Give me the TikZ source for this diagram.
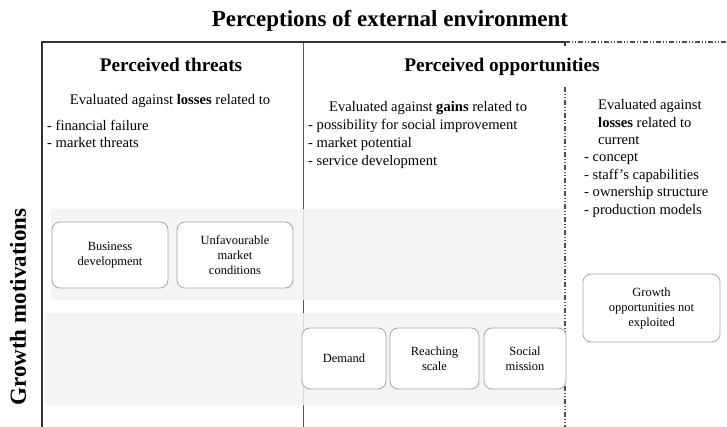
\documentclass[tikz,border=0pt]{standalone}
\usepackage{fontspec}
\setmainfont{Liberation Serif}
\usepackage{tikz}

\tikzset{
	frame/.style={line width=1.3pt, draw=black!80},
	divider/.style={line width=0.9pt, draw=black!65},
	dashdot/.style={line width=1.1pt, draw=black!70, dash pattern=on 5pt off 2pt on 1pt off 2pt on 1pt off 2pt},
	band/.style={fill=black!5, fill opacity=0.85},
	motive/.style={draw=black!35, line width=0.8pt, rounded corners=8pt, fill=white, align=center, font=\fontsize{12.5}{15}\selectfont, inner sep=2pt},
	heading/.style={font=\fontsize{19.3}{23}\selectfont\bfseries, anchor=base, inner sep=0pt},
	body/.style={font=\fontsize{14.6}{17}\selectfont, anchor=base west, inner sep=0pt},
}

\begin{document}
\begin{tikzpicture}[x=1pt, y=-1pt]
	\useasboundingbox (0,0) rectangle (727,427);
	
	\coordinate (tl) at (42,42);
	\coordinate (bl) at (42,427);
	\coordinate (tm) at (303,42);
	\coordinate (bm) at (303,427);
	\coordinate (tr) at (565,42);
	\coordinate (te) at (727,42);
	\coordinate (dr) at (565,87);
	\coordinate (br) at (565,427);
	
	\draw[divider] (tm) -- (bm);
	\fill[band] (51,209) rectangle (563,300);
	\fill[band] (45,313) rectangle (565,405);
	\draw[frame] (bl) -- (tl) -- (tr) -- ++(0,4);
	\draw[dashdot] (tr) -- (te);
	\draw[dashdot] (dr) -- (br);
	
	\node[font=\fontsize{23}{27}\selectfont\bfseries, anchor=base, inner sep=0pt] (title) at (390,27) {Perceptions of external environment};
	\node[rotate=90, font=\fontsize{23}{27}\selectfont\bfseries] (growth) at (18,307) {Growth motivations};
	
	\node[heading] (threats) at (171,72) {Perceived threats};
	\node[heading] (opps) at (502,72) {Perceived opportunities};
	
	\node[body, anchor=base] (threat-eval) at (170,105) {Evaluated against \textbf{losses} related to};
	\foreach \entry [count=\i] in {financial failure, market threats}
		\node[body] (threat-\i) at (47,114+17*\i) {- \entry};
	
	\node[body] (gain-eval) at (329,112) {Evaluated against \textbf{gains} related to};
	\foreach \entry [count=\i] in {possibility for social improvement, market potential, service development}
		\node[body] (gain-\i) at (308,112+18*\i) {- \entry};
	
	\foreach \entry [count=\i] in {Evaluated against, \textbf{losses} related to, current}
		\node[body] (loss-eval-\i) at (598,92.5+17.5*\i) {\entry};
	\foreach \entry [count=\i] in {concept, staff's capabilities, ownership structure, production models}
		\node[body] (loss-\i) at (584,144.5+17.5*\i) {- \entry};
	
	\node[motive, minimum width=116pt, minimum height=66pt] (bizdev) at (110,255) {Business\\development};
	\node[motive, minimum width=116pt, minimum height=66pt] (market) at (235,255) {Unfavourable\\market\\conditions};
	\node[motive, minimum width=84pt, minimum height=61pt] (demand) at (344,358.5) {Demand};
	\node[motive, minimum width=89pt, minimum height=61pt] (scale) at (434.5,358.5) {Reaching\\scale};
	\node[motive, minimum width=82pt, minimum height=61pt] (mission) at (525,358.5) {Social\\mission};
	\node[motive, minimum width=137pt, minimum height=68pt] (unused) at (651.5,308) {Growth\\opportunities not\\exploited};
	
\end{tikzpicture}
\end{document}
